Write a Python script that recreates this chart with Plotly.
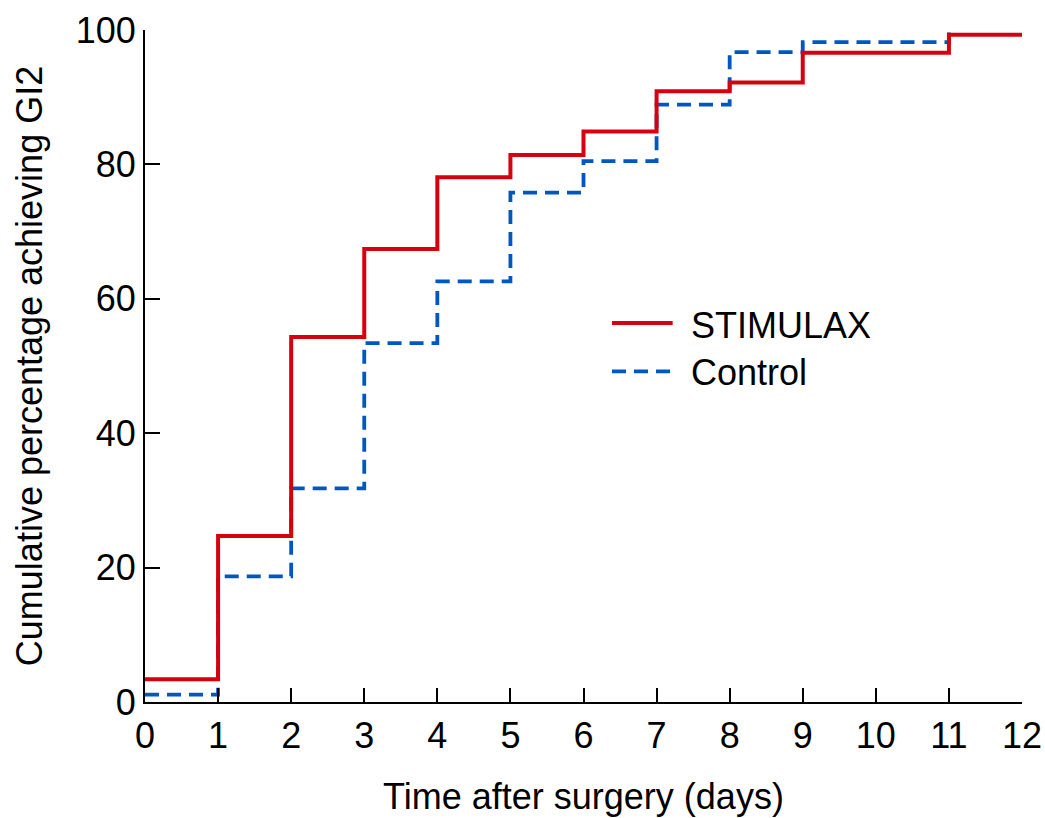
import plotly.graph_objects as go

days = list(range(13))
stimulax = [3.4, 24.7, 54.3, 67.4, 78.1, 81.4, 84.9, 90.9, 92.2, 96.6, 96.6, 99.3, 99.3]
control_days = list(range(12))
control = [1.1, 18.7, 31.8, 53.4, 62.6, 75.8, 80.5, 88.9, 96.7, 98.2, 98.2, 100.0]

x_ticks = list(range(13))
y_ticks = [0, 20, 40, 60, 80, 100]

RED = "#d7000f"
BLUE = "#0057c2"
DASH = "14px,8px"
FONT = "Liberation Sans, Arial, sans-serif"
FS = 36

fig = go.Figure()
fig.add_trace(go.Scatter(x=control_days, y=control, mode="lines", line_shape="hv",
                         line=dict(color=BLUE, width=3.8, dash=DASH), name="Control"))
fig.add_trace(go.Scatter(x=days, y=stimulax, mode="lines", line_shape="hv",
                         line=dict(color=RED, width=4), name="STIMULAX"))

# manual legend
fig.add_shape(type="line", x0=6.39, x1=7.22, y0=56.4, y1=56.4, xref="x", yref="y",
              line=dict(color=RED, width=4))
fig.add_shape(type="line", x0=6.39, x1=7.22, y0=49.2, y1=49.2, xref="x", yref="y",
              line=dict(color=BLUE, width=3.8, dash=DASH))
fig.add_annotation(x=7.45, y=56.1, xref="x", yref="y", text="STIMULAX", showarrow=False,
                   xanchor="left", yanchor="middle", font=dict(size=FS, color="black", family=FONT))
fig.add_annotation(x=7.45, y=49.0, xref="x", yref="y", text="Control", showarrow=False,
                   xanchor="left", yanchor="middle", font=dict(size=FS, color="black", family=FONT))

fig.update_layout(
    width=1045, height=818,
    margin=dict(l=145, r=23, t=30, b=116),
    plot_bgcolor="white", paper_bgcolor="white",
    showlegend=False,
    font=dict(family=FONT, size=FS, color="black"),
)
fig.update_xaxes(range=[0, 12], tickvals=x_ticks, ticktext=[str(v) for v in x_ticks],
                 ticks="inside", ticklen=14, tickwidth=2, tickcolor="black",
                 showline=True, linecolor="black", linewidth=2, showgrid=False, zeroline=False,
                 ticklabelstandoff=1, automargin=False, tickfont=dict(size=FS),
                 title=dict(text="Time after surgery (days)", font=dict(size=FS), standoff=29))
fig.update_yaxes(range=[0, 100], tickvals=y_ticks, ticktext=[str(v) for v in y_ticks],
                 ticks="inside", ticklen=15, tickwidth=2, tickcolor="black",
                 showline=True, linecolor="black", linewidth=2, showgrid=False, zeroline=False,
                 ticklabelstandoff=0, automargin=False, tickfont=dict(size=FS),
                 title=dict(text="Cumulative percentage achieving GI2", font=dict(size=FS), standoff=22))

fig.write_html("out.html")
